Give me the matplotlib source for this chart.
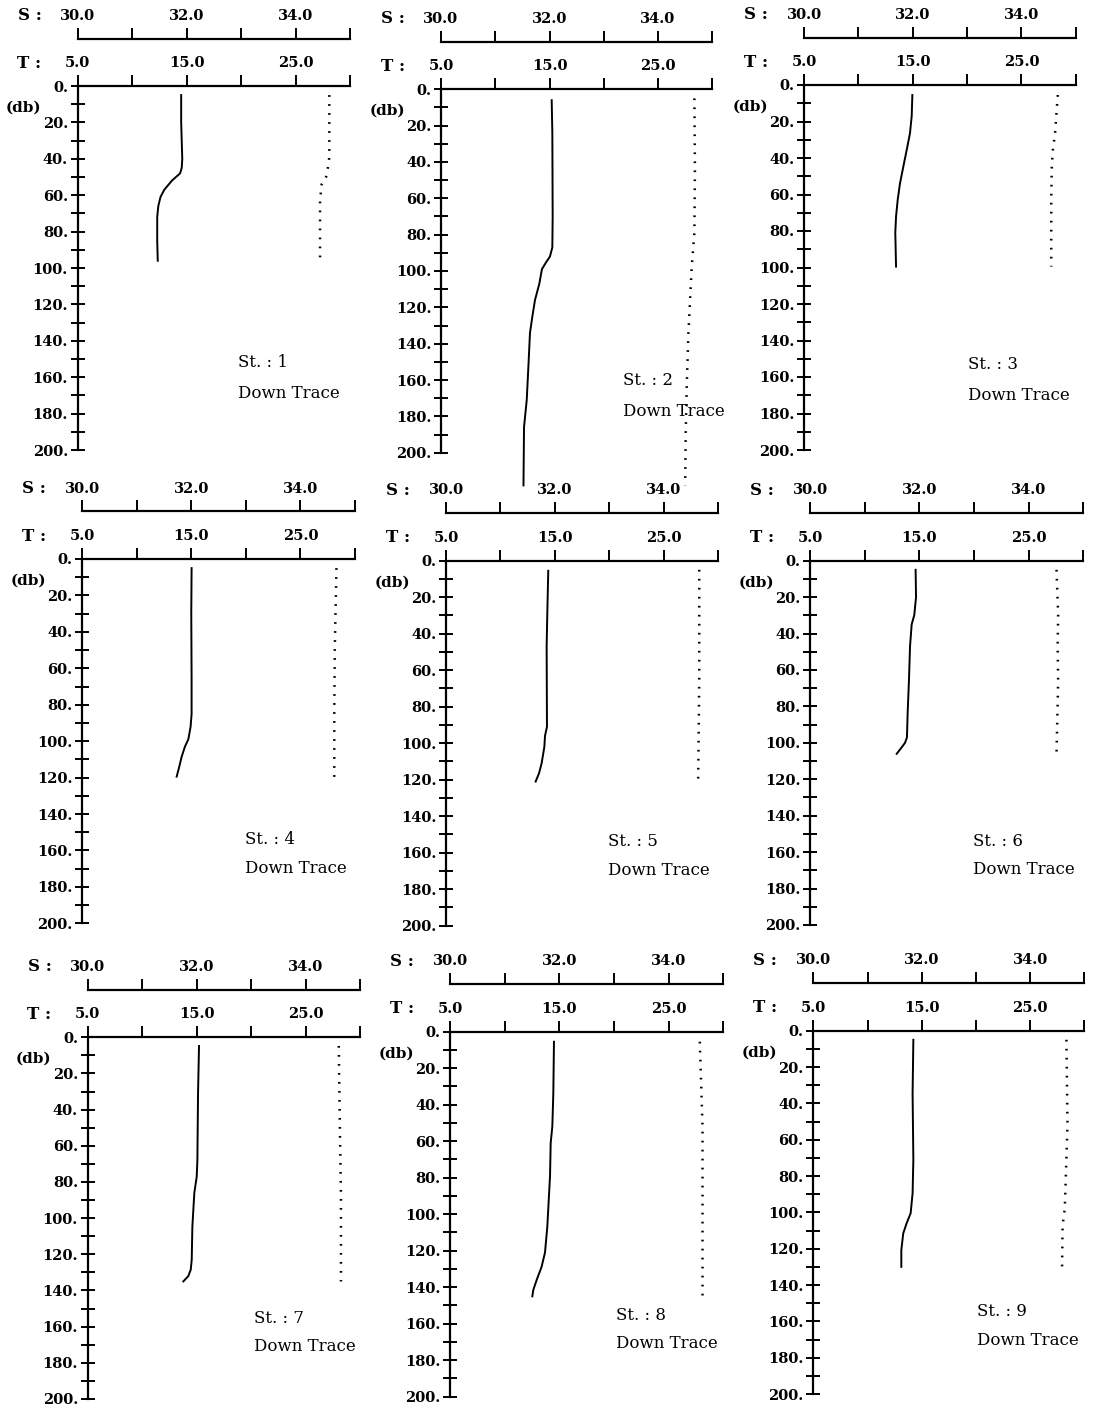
import matplotlib
matplotlib.use("Agg")
import matplotlib.pyplot as plt
import numpy as np

plt.rcParams['font.family'] = ['DejaVu Serif']

# ---- data (depth in db) ----
stations = [1, 2, 3, 4, 5, 6, 7, 8, 9]

t1_d = [5, 20, 40, 45, 48, 52, 57, 61, 66, 72, 85, 96]
t1_v = [14.5, 14.5, 14.6, 14.55, 14.4, 13.65, 12.95, 12.6, 12.4, 12.3, 12.3, 12.35]
s1_d = [5, 39, 44, 50, 54, 63, 96]
s1_v = [34.62, 34.62, 34.60, 34.56, 34.48, 34.45, 34.45]

t2_d = [6, 24, 70, 87, 92, 96, 99, 107, 116, 125, 134, 153, 171, 186, 218]
t2_v = [15.2, 15.26, 15.29, 15.26, 15.04, 14.6, 14.3, 14.06, 13.66, 13.42, 13.2, 13.05, 12.9, 12.65, 12.6]
s2_d = [5, 43, 79, 98, 116, 134, 162, 189, 218]
s2_v = [34.67, 34.68, 34.67, 34.62, 34.59, 34.56, 34.53, 34.51, 34.5]

t3_d = [5.5, 17, 26.5, 35.6, 44.7, 54, 63, 72, 81, 99.5]
t3_v = [14.97, 14.91, 14.75, 14.45, 14.14, 13.83, 13.62, 13.47, 13.4, 13.47]
s3_d = [5.5, 26.5, 35.6, 44.7, 63, 99.5]
s3_v = [34.67, 34.62, 34.58, 34.56, 34.55, 34.55]

t4_d = [5, 30, 66, 85, 92, 99, 103, 108.5, 114, 119.5]
t4_v = [15.02, 14.99, 15.02, 15.02, 14.93, 14.72, 14.41, 14.11, 13.89, 13.65]
s4_d = [5, 48, 85, 120]
s4_v = [34.66, 34.63, 34.62, 34.62]

t5_d = [5.5, 29, 47, 91, 96, 102, 111, 116.5, 121]
t5_v = [14.39, 14.3, 14.24, 14.27, 14.09, 14.03, 13.78, 13.54, 13.23]
s5_d = [5, 65, 121]
s5_v = [34.65, 34.65, 34.63]

t6_d = [5, 20, 29.8, 35, 47, 66, 84, 97, 100, 103, 106]
t6_v = [14.66, 14.7, 14.54, 14.3, 14.15, 14.05, 13.93, 13.87, 13.69, 13.32, 12.93]
s6_d = [5, 29.8, 47, 66, 106]
s6_v = [34.51, 34.54, 34.53, 34.54, 34.51]

t7_d = [4.8, 31, 68, 77, 86, 104.6, 123, 128.5, 132, 135]
t7_v = [15.22, 15.13, 15.07, 15.01, 14.79, 14.61, 14.55, 14.46, 14.24, 13.78]
s7_d = [4.8, 49, 86, 135]
s7_v = [34.61, 34.63, 34.65, 34.65]

t8_d = [5.5, 34, 52, 61, 79, 107, 121, 128.8, 136, 141.5, 145]
t8_v = [14.51, 14.45, 14.36, 14.21, 14.15, 13.9, 13.69, 13.38, 12.93, 12.62, 12.53]
s8_d = [5.5, 52, 107, 145]
s8_v = [34.57, 34.62, 34.62, 34.62]

t9_d = [5, 34.5, 71, 89.5, 100.5, 106, 111.5, 120.7, 130]
t9_v = [14.23, 14.16, 14.23, 14.16, 13.98, 13.61, 13.3, 13.12, 13.12]
s9_d = [5, 52, 98, 107, 130]
s9_v = [34.67, 34.69, 34.64, 34.6, 34.59]

temp_d = [t1_d, t2_d, t3_d, t4_d, t5_d, t6_d, t7_d, t8_d, t9_d]
temp_v = [t1_v, t2_v, t3_v, t4_v, t5_v, t6_v, t7_v, t8_v, t9_v]
sal_d = [s1_d, s2_d, s3_d, s4_d, s5_d, s6_d, s7_d, s8_d, s9_d]
sal_v = [s1_v, s2_v, s3_v, s4_v, s5_v, s6_v, s7_v, s8_v, s9_v]

t_ticks = [5, 10, 15, 20, 25, 30]
t_labels = ["5.0", "", "15.0", "", "25.0", ""]
s_ticks = [30, 31, 32, 33, 34, 35]
s_labels = ["30.0", "", "32.0", "", "34.0", ""]
p_ticks = list(range(0, 201, 10))
p_labels = [f"{p}." if p % 20 == 0 else "" for p in p_ticks]

# ---- layout (pixels in the 1093x1408 page): left, right, top(0 db), bottom(200 db)
W, H = 1093, 1408
panels = [
    (77.7, 350.0, 86.0, 450.0), (441.0, 712.3, 89.3, 452.7), (804.0, 1075.7, 85.0, 450.0),
    (82.3, 355.0, 559.0, 923.3), (446.0, 718.3, 560.7, 925.7), (810.0, 1083.3, 560.7, 925.0),
    (87.7, 360.0, 1037.3, 1399.0), (450.0, 723.3, 1031.7, 1396.7), (813.3, 1084.3, 1030.7, 1394.0),
]
# where the "St. : n / Down Trace" note sits (T units, db)
notes = [(19.75, 152, 169), (21.8, 160, 177.5), (20.1, 153.4, 170),
         (19.9, 154, 170), (19.84, 154, 169.5), (19.94, 154.3, 169.8),
         (20.27, 155.3, 170.9), (20.15, 155.3, 170.8), (20.07, 154.7, 170.8)]

fig = plt.figure(figsize=(W / 100, H / 100), dpi=100)
fig.patch.set_facecolor("white")

LW_AX = 1.6
S_OFFSET = 34.2  # points between T axis and S axis
TICK_FS = 10.5

for i, st in enumerate(stations):
    l, r, top, bot = panels[i]
    ax = fig.add_axes([l / W, 1 - bot / H, (r - l) / W, (bot - top) / H])
    ax2 = ax.twiny()  # salinity scale (twiny resets ax ticks, so set them after)

    ax.set_xlim(5, 30)
    ax.set_ylim(200, 0)
    ax.patch.set_visible(False)
    for sp in ["right", "bottom"]:
        ax.spines[sp].set_visible(False)
    for sp in ["left", "top"]:
        ax.spines[sp].set_linewidth(LW_AX)

    ax.xaxis.set_ticks_position("top")
    ax.set_xticks(t_ticks)
    ax.set_xticklabels(t_labels)
    ax.tick_params(axis="x", which="both", top=True, bottom=False,
                   labeltop=True, labelbottom=False, direction="out",
                   length=8, width=1.4, pad=3.5, labelsize=TICK_FS)
    ax.set_yticks(p_ticks)
    ax.set_yticklabels(p_labels)
    ax.tick_params(axis="y", direction="inout", length=10, width=1.4, pad=2,
                   labelsize=TICK_FS)
    for lab in ax.get_xticklabels() + ax.get_yticklabels():
        lab.set_fontweight("bold")

    ax2.set_xlim(30, 35)
    for sp in ["left", "right", "bottom"]:
        ax2.spines[sp].set_visible(False)
    ax2.spines["top"].set_position(("outward", S_OFFSET))
    ax2.spines["top"].set_linewidth(LW_AX)
    ax2.set_xticks(s_ticks)
    ax2.set_xticklabels(s_labels)
    ax2.tick_params(axis="x", direction="out", length=8, width=1.4, pad=3.5,
                    labelsize=TICK_FS)
    for lab in ax2.get_xticklabels():
        lab.set_fontweight("bold")

    ax.plot(temp_v[i], temp_d[i], color="black", lw=1.4, clip_on=False,
            solid_joinstyle="round")
    ax2.plot(sal_v[i], sal_d[i], color="black", lw=1.8, ls=(0, (0.7, 2.9)),
             clip_on=False)

    # axis captions
    ax.annotate("T :", xy=(0, 1), xycoords="axes fraction", xytext=(-26, 16.5),
                textcoords="offset points", ha="right", va="center",
                fontsize=12, fontweight="bold")
    ax.annotate("S :", xy=(0, 1), xycoords="axes fraction",
                xytext=(-26, 16.5 + S_OFFSET), textcoords="offset points",
                ha="right", va="center", fontsize=12, fontweight="bold")
    ax.annotate("(db)", xy=(0, 12), xycoords=("axes fraction", "data"),
                xytext=(-26, 0), textcoords="offset points", ha="right",
                va="center", fontsize=11, fontweight="bold")

    nx, ny1, ny2 = notes[i]
    ax.text(nx, ny1, f"St. : {st}", fontsize=12, ha="left", va="center")
    ax.text(nx, ny2, "Down Trace", fontsize=12, ha="left", va="center")

fig.savefig("out.png", dpi=100, facecolor="white")
